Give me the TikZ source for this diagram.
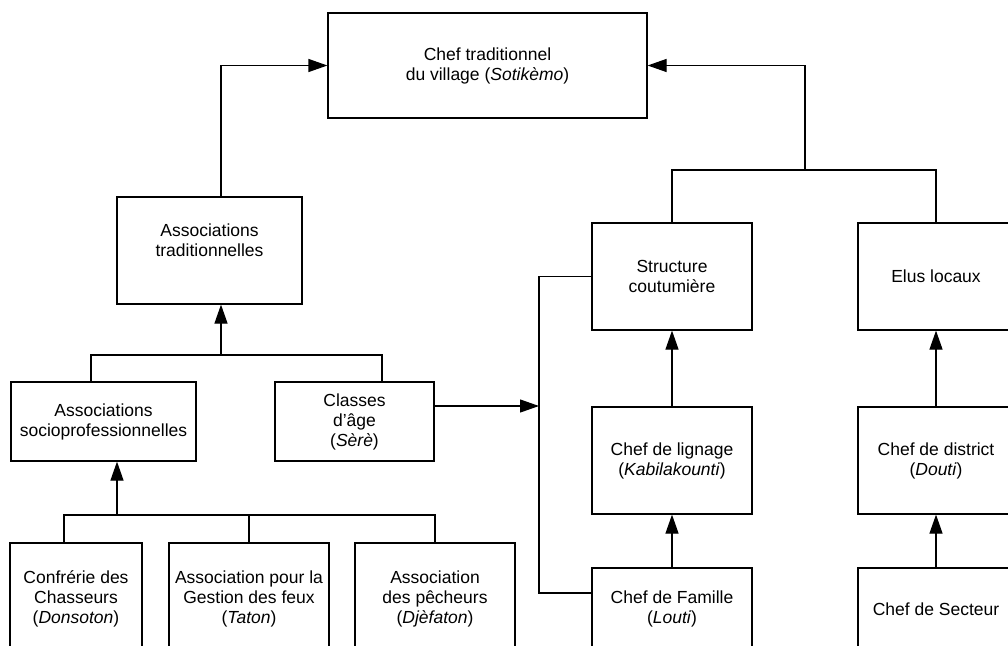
\documentclass[tikz,border=0pt]{standalone}
\usepackage{fontspec}
\setmainfont{Liberation Sans}
\usepackage{tikz}
\usetikzlibrary{arrows.meta}

\begin{document}
\begin{tikzpicture}[x=1pt, y=-1pt, >={Triangle[length=19pt, width=13pt]}]
	\tikzstyle{bloc} = [draw, line width=1.2pt, align=center, inner sep=0pt, font={\fontsize{17.5}{20}\selectfont}]
	\tikzstyle{lien} = [line width=1.2pt]
	\useasboundingbox (0,0) rectangle (1008,645);
	\clip (0,0) rectangle (1008,645);
	% boites
	\begin{scope}
	  \path[->, lien]
	  node[bloc, minimum width=319pt, minimum height=105pt] (chef) at (487.5,65.5) {Chef traditionnel\\du village (\textit{Sotikèmo})}
	  node[bloc, minimum width=185pt, minimum height=107pt] (asstrad) at (209.5,250.5) {Associations\\traditionnelles\\\mbox{}}
	  node[bloc, minimum width=185pt, minimum height=79pt] (socio) at (103.5,421.5) {Associations\\socioprofessionnelles}
	  node[bloc, minimum width=159pt, minimum height=79pt] (classes) at (354.5,421.5) {Classes\\d'âge\\(\textit{Sèrè})}
	  node[bloc, minimum width=160pt, minimum height=107pt] (structure) at (672,276.5) {Structure\\coutumière}
	  node[bloc, minimum width=156pt, minimum height=107pt] (elus) at (936,276.5) {Elus locaux}
	  node[bloc, minimum width=160pt, minimum height=107pt] (lignage) at (672,460.5) {Chef de lignage\\(\textit{Kabilakounti})}
	  node[bloc, minimum width=156pt, minimum height=107pt] (district) at (936,460.5) {Chef de district\\(\textit{Douti})}
	  node[bloc, minimum width=160pt, minimum height=82pt] (famille) at (672,609) {Chef de Famille\\(\textit{Louti})}
	  node[bloc, minimum width=156pt, minimum height=82pt] (secteur) at (936,609) {Chef de Secteur}
	  node[bloc, minimum width=132pt, minimum height=112pt] (confrerie) at (76,599) {Confrérie des\\Chasseurs\\(\textit{Donsoton})}
	  node[bloc, minimum width=160pt, minimum height=112pt] (gestion) at (249,599) {Association pour la\\Gestion des feux\\(\textit{Taton})}
	  node[bloc, minimum width=160pt, minimum height=112pt] (pecheurs) at (435,599) {Association\\des pêcheurs\\(\textit{Djèfaton})}
	  (lignage) edge (structure)
	  (famille) edge (lignage)
	  (district) edge (elus)
	  (secteur) edge (district)
	  ;
	\end{scope}
	% points de jonction
	\coordinate (j1) at (221,66);
	\coordinate (hautdroit) at (805,170);
	\coordinate (ba) at (91,355);
	\coordinate (bb) at (382,355);
	\coordinate (busmil) at (221,355);
	\coordinate (bc) at (64,515);
	\coordinate (bd) at (117,515);
	\coordinate (va) at (539,406);
	\coordinate (vb) at (539,593);
	% liaisons
	\draw[->, lien] (asstrad.north -| j1) |- (chef.west);
	\draw[lien] (structure.north) |- (hautdroit) -| (elus.north);
	\draw[->, lien] (hautdroit) |- (chef.east);
	\draw[lien] (socio.north -| ba) -- (ba) -- (bb) -- (classes.north -| bb);
	\draw[->, lien] (busmil) -- (asstrad.south -| busmil);
	\draw[lien] (confrerie.north -| bc) -- (bc) -- (pecheurs.north |- bc) -- (pecheurs.north);
	\draw[lien] (gestion.north |- bc) -- (gestion.north);
	\draw[->, lien] (bd) -- (socio.south -| bd);
	\draw[->, lien] (classes.east |- va) -- (va);
	\draw[lien] (structure.west) -| (vb) -- (famille.west |- vb);
\end{tikzpicture}
\end{document}
